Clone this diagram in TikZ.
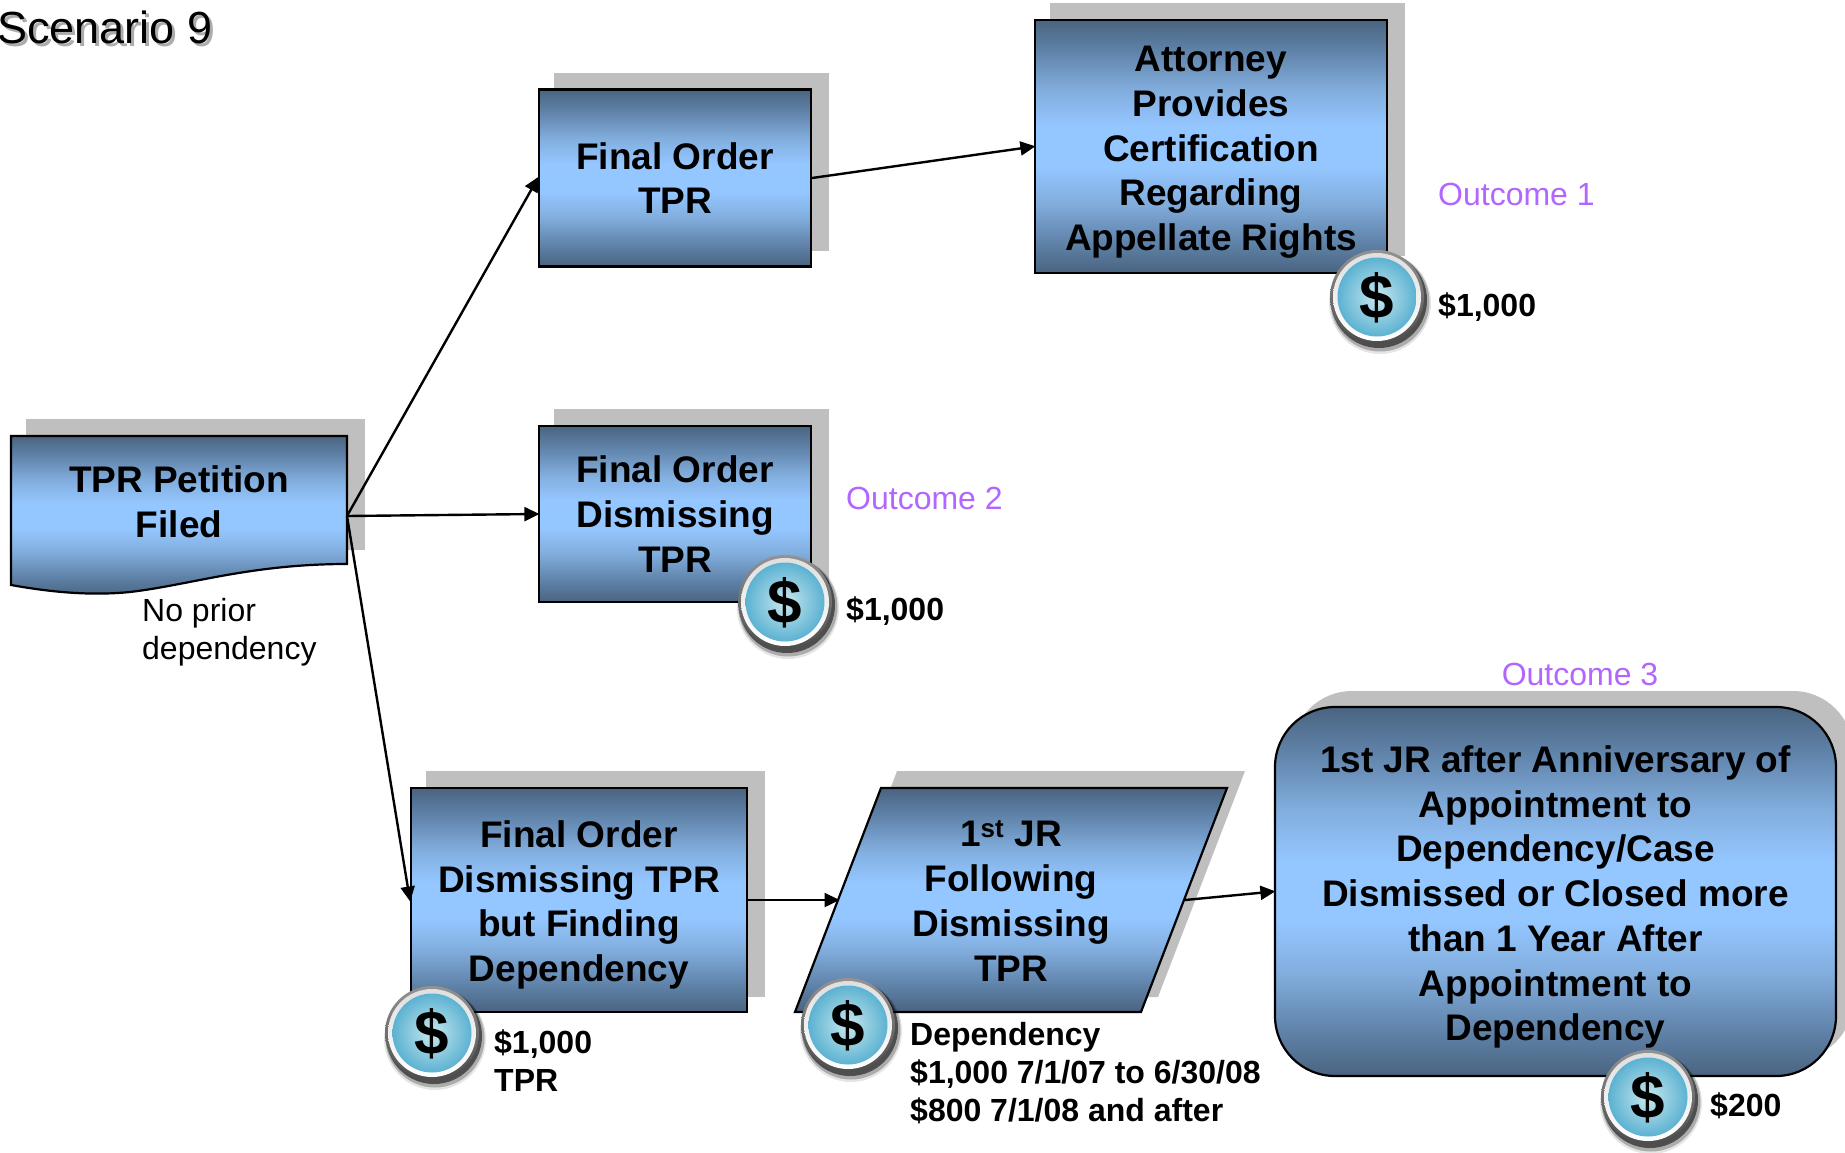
\documentclass[tikz,border=0pt]{standalone}
\usepackage{fontspec}
\setmainfont{Liberation Sans}
\usetikzlibrary{arrows.meta}
\definecolor{gdark}{HTML}{4A6480}
\definecolor{gmida}{HTML}{5F82A8}
\definecolor{gmidb}{HTML}{82AEDE}
\definecolor{glight}{HTML}{94C6FF}
\definecolor{shad}{HTML}{BFBFBF}
\definecolor{purp}{HTML}{B266FF}
\definecolor{coinlight}{HTML}{C8E8EE}
\definecolor{coinedge}{HTML}{5CB2D2}
\pgfdeclareverticalshading{boxgrad}{100bp}{color(0bp)=(gdark); color(25bp)=(gdark); color(31bp)=(gmida); color(39bp)=(gmidb); color(46bp)=(glight); color(54bp)=(glight); color(61bp)=(gmidb); color(69bp)=(gmida); color(75bp)=(gdark); color(100bp)=(gdark)}
\tikzset{
 x=1pt,y=-1pt,
 grad/.style={shade,shading=boxgrad},
 boxtext/.style={font=\bfseries\fontsize{37}{44.7}\selectfont},
 boxstyle/.style={grad,draw=black,line width=2.2pt,align=center,boxtext,inner sep=0pt},
 shadowfill/.style={fill=shad,draw=none},
 conn/.style={draw=black,line width=2.4pt,shorten >=-1.5pt,-{Triangle[length=15pt,width=14pt]}},
 txt/.style={inner sep=0pt,align=left,anchor=north west},
 boldlabel/.style={txt,font=\bfseries\fontsize{32}{38}\selectfont},
 plainlabel/.style={txt,font=\fontsize{32}{38}\selectfont},
 outcome/.style={inner sep=0pt,anchor=west,text=purp,font=\fontsize{32}{38}\selectfont},
}
\newcommand{\topstrut}[1]{\rule{0pt}{#1pt}}
\newcommand{\coin}[2]{%
 \fill[black,opacity=.10] (#1+3,#2+6) circle (51);
 \fill[black,opacity=.25] (#1+3,#2+5) circle (49.5);
 \fill[black,opacity=.55] (#1+2,#2+3) circle (48);
 \shade[top color=gray!85,bottom color=gray!60!black] (#1,#2) circle (47);
 \shade[top color=gray!25,bottom color=white] (#1,#2) circle (44);
 \shade[inner color=coinlight,outer color=coinedge] (#1,#2) circle (39.5);
 \node[inner sep=0pt,text=black,font=\bfseries\fontsize{62}{62}\selectfont] at (#1,#2+1) {\$};
}
\begin{document}
\begin{tikzpicture}
\useasboundingbox (0,0) rectangle (1845,1152);
\clip (0,0) rectangle (1845,1152);
% shadows
\fill[shadowfill] (26,419) rectangle (365,550);
\fill[shadowfill] (554,73) rectangle (829,251);
\fill[shadowfill] (1050,3) rectangle (1405,256);
\fill[shadowfill] (554,409) rectangle (829,585);
\fill[shadowfill] (426,771) rectangle (765,997);
\fill[shadowfill] (897,771) -- (1245,771) -- (1158,997) -- (812,997) -- cycle;
\fill[shadowfill,rounded corners=60pt] (1292,691) rectangle (1853,1060);
% petition shape
\shade[grad,draw=black,line width=2.2pt] (11,436) -- (347,436) -- (347,564)
  .. controls (250,564) and (190,585) .. (130,592)
  .. controls (90,596) and (50,592) .. (11,585) -- cycle;
\node[inner sep=0pt,align=center,boxtext] (petition) at (179,501.5) {TPR Petition\\Filed};
\coordinate (petout) at (347,516);
% boxes
\node[boxstyle,minimum width=272pt,minimum height=177pt] (fotpr) at (675,178) {Final Order\\TPR};
\node[boxstyle,minimum width=352pt,minimum height=253pt] (attorney) at (1211,146.5) {\topstrut{37}Attorney\\Provides\\Certification\\Regarding\\Appellate Rights};
\node[boxstyle,minimum width=272pt,minimum height=176pt] (fodis) at (675,514) {Final Order\\Dismissing\\TPR};
\node[boxstyle,minimum width=336pt,minimum height=224pt] (fodep) at (579,900) {\topstrut{36.5}Final Order\\Dismissing TPR\\but Finding\\Dependency};
% parallelogram
\shade[grad,draw=black,line width=2.2pt] (881,788) -- (1227,788) -- (1141,1012) -- (795,1012) -- cycle;
\node[inner sep=0pt,align=center,boxtext] (jr) at (1011,901) {1\textsuperscript{st} JR\\Following\\Dismissing\\TPR};
\coordinate (jrin) at (838,900);
\coordinate (jrout) at (1185,900);
% rounded
\node[boxstyle,rounded corners=60pt,minimum width=561pt,minimum height=369pt] (anniv) at (1555.5,891.5) {\topstrut{38}1st JR after Anniversary of\\Appointment to\\Dependency/Case\\Dismissed or Closed more\\than 1 Year After\\Appointment to\\Dependency};
% connectors
\draw[conn] (petout) -- (fotpr.west);
\draw[conn] (petout) -- (fodis.west);
\draw[conn] (petout) -- (fodep.west);
\draw[conn] (fotpr.east) -- (attorney.west);
\draw[conn] (fodep.east) -- (jrin);
\draw[conn] (jrout) -- (anniv.west);
% coins
\coin{1377}{297}
\coin{785}{602}
\coin{432}{1033}
\coin{848}{1025}
\coin{1648}{1097}
% labels
\node[inner sep=0pt,anchor=west,text=gray!65,font=\fontsize{45}{50}\selectfont] (scenshadow) at (0,30) {Scenario 9};
\node[inner sep=0pt,anchor=west,font=\fontsize{45}{50}\selectfont] (scen) at (-3,27.5) {Scenario 9};
\node[plainlabel] (nodep) at (142,598) {No prior\\dependency};
\node[outcome] (o1) at (1438,194) {Outcome 1};
\node[outcome] (o2) at (846,498) {Outcome 2};
\node[inner sep=0pt,text=purp,font=\fontsize{32}{38}\selectfont] (o3) at (1580,674) {Outcome 3};
\node[boldlabel,anchor=west] (m1) at (1438,307.5) {\$1,000};
\node[boldlabel,anchor=west] (m2) at (846,611.5) {\$1,000};
\node[boldlabel] (m3) at (494,1030) {\$1,000\\TPR};
\node[boldlabel] (m4) at (910,1022.5) {Dependency\\\$1,000 7/1/07 to 6/30/08\\\$800 7/1/08 and after};
\node[boldlabel,anchor=west] (m5) at (1710,1106) {\$200};
\end{tikzpicture}
\end{document}
